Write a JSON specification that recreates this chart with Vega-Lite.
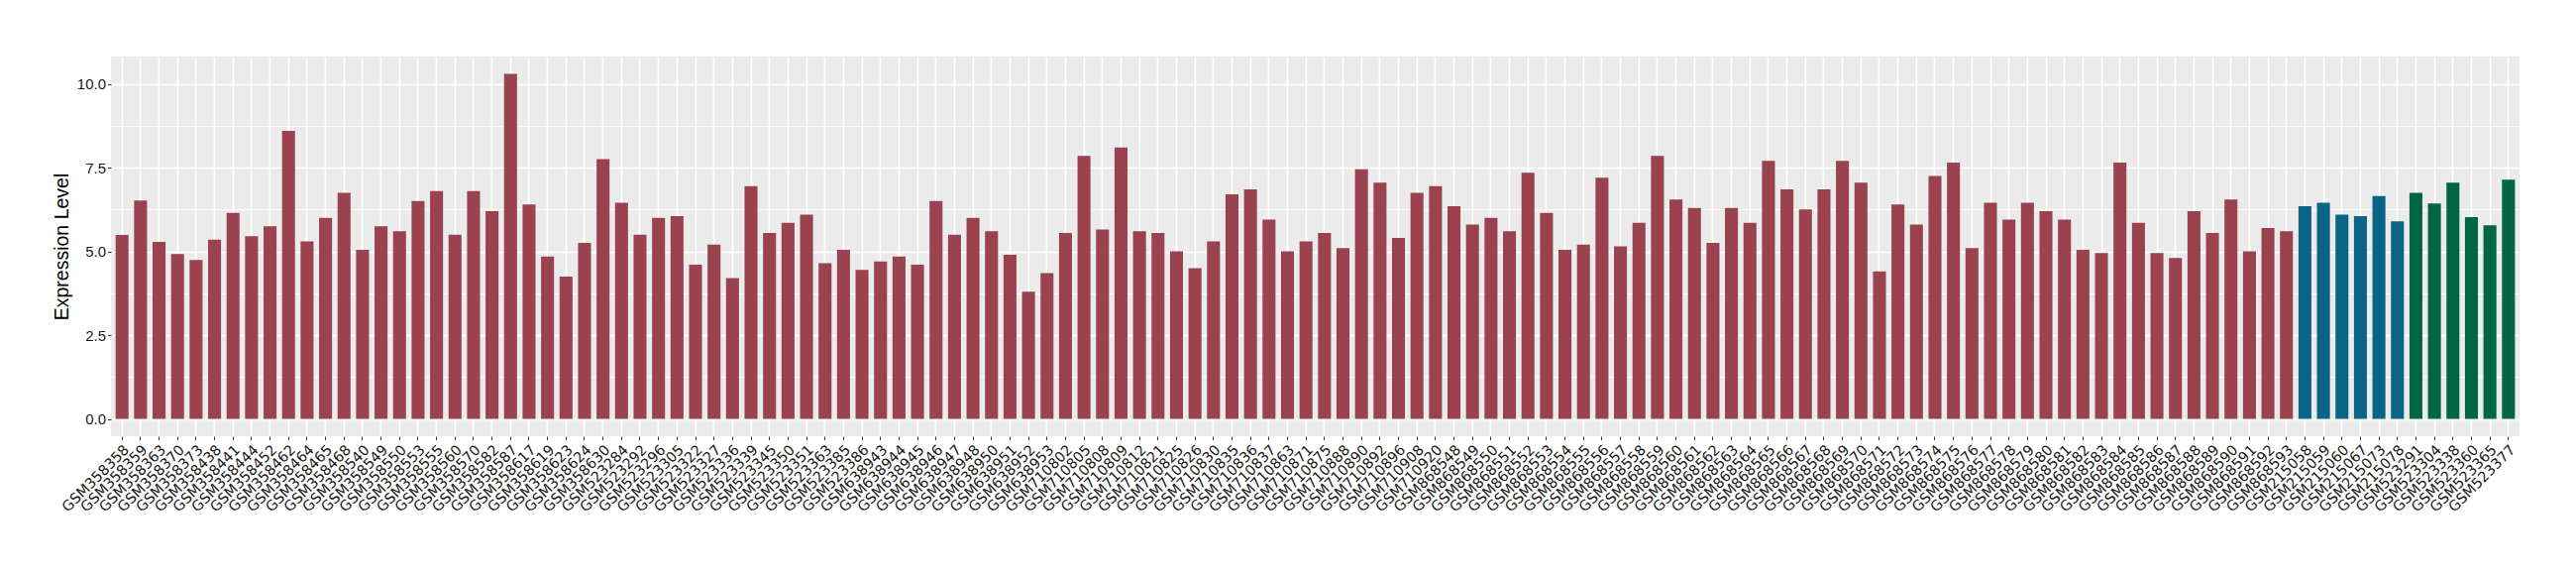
{
  "$schema": "https://vega.github.io/schema/vega-lite/v6.json",
  "autosize": "none",
  "padding": {"left": 112, "top": 57, "right": 57, "bottom": 140},
  "width": 2431,
  "height": 383,
  "background": "white",
  "config": {
    "view": {"fill": "#EBEBEB", "stroke": null},
    "font": "Liberation Sans"
  },
  "data": {"values": [
    {"s":"GSM358358","v":5.49,"g":"A"},{"s":"GSM358359","v":6.52,"g":"A"},{"s":"GSM358363","v":5.28,"g":"A"},{"s":"GSM358370","v":4.92,"g":"A"},{"s":"GSM358373","v":4.74,"g":"A"},
    {"s":"GSM358438","v":5.35,"g":"A"},{"s":"GSM358441","v":6.15,"g":"A"},{"s":"GSM358444","v":5.45,"g":"A"},{"s":"GSM358452","v":5.75,"g":"A"},{"s":"GSM358462","v":8.6,"g":"A"},
    {"s":"GSM358464","v":5.3,"g":"A"},{"s":"GSM358465","v":6.0,"g":"A"},{"s":"GSM358468","v":6.75,"g":"A"},{"s":"GSM358540","v":5.05,"g":"A"},{"s":"GSM358549","v":5.75,"g":"A"},
    {"s":"GSM358550","v":5.6,"g":"A"},{"s":"GSM358553","v":6.5,"g":"A"},{"s":"GSM358555","v":6.8,"g":"A"},{"s":"GSM358560","v":5.5,"g":"A"},{"s":"GSM358570","v":6.8,"g":"A"},
    {"s":"GSM358582","v":6.2,"g":"A"},{"s":"GSM358587","v":10.3,"g":"A"},{"s":"GSM358617","v":6.4,"g":"A"},{"s":"GSM358619","v":4.85,"g":"A"},{"s":"GSM358623","v":4.25,"g":"A"},
    {"s":"GSM358624","v":5.25,"g":"A"},{"s":"GSM358630","v":7.75,"g":"A"},{"s":"GSM523284","v":6.45,"g":"A"},{"s":"GSM523292","v":5.5,"g":"A"},{"s":"GSM523296","v":6.0,"g":"A"},
    {"s":"GSM523305","v":6.05,"g":"A"},{"s":"GSM523322","v":4.6,"g":"A"},{"s":"GSM523327","v":5.2,"g":"A"},{"s":"GSM523336","v":4.2,"g":"A"},{"s":"GSM523339","v":6.95,"g":"A"},
    {"s":"GSM523345","v":5.55,"g":"A"},{"s":"GSM523350","v":5.85,"g":"A"},{"s":"GSM523351","v":6.1,"g":"A"},{"s":"GSM523363","v":4.65,"g":"A"},{"s":"GSM523385","v":5.05,"g":"A"},
    {"s":"GSM523386","v":4.45,"g":"A"},{"s":"GSM638943","v":4.7,"g":"A"},{"s":"GSM638944","v":4.85,"g":"A"},{"s":"GSM638945","v":4.6,"g":"A"},{"s":"GSM638946","v":6.5,"g":"A"},
    {"s":"GSM638947","v":5.5,"g":"A"},{"s":"GSM638948","v":6.0,"g":"A"},{"s":"GSM638950","v":5.6,"g":"A"},{"s":"GSM638951","v":4.9,"g":"A"},{"s":"GSM638952","v":3.8,"g":"A"},
    {"s":"GSM638953","v":4.35,"g":"A"},{"s":"GSM710802","v":5.55,"g":"A"},{"s":"GSM710805","v":7.85,"g":"A"},{"s":"GSM710808","v":5.65,"g":"A"},{"s":"GSM710809","v":8.1,"g":"A"},
    {"s":"GSM710812","v":5.6,"g":"A"},{"s":"GSM710821","v":5.55,"g":"A"},{"s":"GSM710825","v":5.0,"g":"A"},{"s":"GSM710826","v":4.5,"g":"A"},{"s":"GSM710830","v":5.3,"g":"A"},
    {"s":"GSM710835","v":6.7,"g":"A"},{"s":"GSM710836","v":6.85,"g":"A"},{"s":"GSM710837","v":5.95,"g":"A"},{"s":"GSM710863","v":5.0,"g":"A"},{"s":"GSM710871","v":5.3,"g":"A"},
    {"s":"GSM710875","v":5.55,"g":"A"},{"s":"GSM710888","v":5.1,"g":"A"},{"s":"GSM710890","v":7.45,"g":"A"},{"s":"GSM710892","v":7.05,"g":"A"},{"s":"GSM710896","v":5.4,"g":"A"},
    {"s":"GSM710908","v":6.75,"g":"A"},{"s":"GSM710920","v":6.95,"g":"A"},{"s":"GSM868548","v":6.35,"g":"A"},{"s":"GSM868549","v":5.8,"g":"A"},{"s":"GSM868550","v":6.0,"g":"A"},
    {"s":"GSM868551","v":5.6,"g":"A"},{"s":"GSM868552","v":7.35,"g":"A"},{"s":"GSM868553","v":6.15,"g":"A"},{"s":"GSM868554","v":5.05,"g":"A"},{"s":"GSM868555","v":5.2,"g":"A"},
    {"s":"GSM868556","v":7.2,"g":"A"},{"s":"GSM868557","v":5.15,"g":"A"},{"s":"GSM868558","v":5.85,"g":"A"},{"s":"GSM868559","v":7.85,"g":"A"},{"s":"GSM868560","v":6.55,"g":"A"},
    {"s":"GSM868561","v":6.3,"g":"A"},{"s":"GSM868562","v":5.25,"g":"A"},{"s":"GSM868563","v":6.3,"g":"A"},{"s":"GSM868564","v":5.85,"g":"A"},{"s":"GSM868565","v":7.7,"g":"A"},
    {"s":"GSM868566","v":6.85,"g":"A"},{"s":"GSM868567","v":6.25,"g":"A"},{"s":"GSM868568","v":6.85,"g":"A"},{"s":"GSM868569","v":7.7,"g":"A"},{"s":"GSM868570","v":7.05,"g":"A"},
    {"s":"GSM868571","v":4.4,"g":"A"},{"s":"GSM868572","v":6.4,"g":"A"},{"s":"GSM868573","v":5.8,"g":"A"},{"s":"GSM868574","v":7.25,"g":"A"},{"s":"GSM868575","v":7.65,"g":"A"},
    {"s":"GSM868576","v":5.1,"g":"A"},{"s":"GSM868577","v":6.45,"g":"A"},{"s":"GSM868578","v":5.95,"g":"A"},{"s":"GSM868579","v":6.45,"g":"A"},{"s":"GSM868580","v":6.2,"g":"A"},
    {"s":"GSM868581","v":5.95,"g":"A"},{"s":"GSM868582","v":5.05,"g":"A"},{"s":"GSM868583","v":4.95,"g":"A"},{"s":"GSM868584","v":7.65,"g":"A"},{"s":"GSM868585","v":5.85,"g":"A"},
    {"s":"GSM868586","v":4.95,"g":"A"},{"s":"GSM868587","v":4.8,"g":"A"},{"s":"GSM868588","v":6.2,"g":"A"},{"s":"GSM868589","v":5.55,"g":"A"},{"s":"GSM868590","v":6.55,"g":"A"},
    {"s":"GSM868591","v":5.0,"g":"A"},{"s":"GSM868592","v":5.7,"g":"A"},{"s":"GSM868593","v":5.6,"g":"A"},
    {"s":"GSM215058","v":6.35,"g":"B"},{"s":"GSM215059","v":6.45,"g":"B"},{"s":"GSM215060","v":6.1,"g":"B"},{"s":"GSM215067","v":6.05,"g":"B"},{"s":"GSM215073","v":6.65,"g":"B"},{"s":"GSM215078","v":5.9,"g":"B"},
    {"s":"GSM523291","v":6.75,"g":"C"},{"s":"GSM523304","v":6.43,"g":"C"},{"s":"GSM523338","v":7.05,"g":"C"},{"s":"GSM523360","v":6.02,"g":"C"},{"s":"GSM523365","v":5.78,"g":"C"},{"s":"GSM523377","v":7.14,"g":"C"}
  ]},
  "mark": {"type": "bar"},
  "encoding": {
    "x": {
      "field": "s", "type": "nominal", "sort": null,
      "scale": {"paddingInner": 0.3, "paddingOuter": 0.25},
      "axis": {
        "title": null, "domain": false,
        "labelAngle": -45, "labelAlign": "right", "labelBaseline": "top",
        "labelFont": "DejaVu Sans",
        "labelFontSize": 14.5, "labelColor": "#1a1a1a", "labelPadding": 3,
        "tickColor": "#333333", "tickSize": 3.5, "tickWidth": 1,
        "grid": true, "gridColor": "#FFFFFF", "gridWidth": 1.6,
        "labelOverlap": false, "labelLimit": 0
      }
    },
    "y": {
      "field": "v", "type": "quantitative",
      "scale": {"domain": [-0.515, 10.815], "nice": false, "zero": false},
      "axis": {
        "title": "Expression Level", "titleFontSize": 19.5, "titleFontWeight": "normal", "titleColor": "#000000", "titlePadding": 5,
        "domain": false,
        "values": [0, 1.25, 2.5, 3.75, 5, 6.25, 7.5, 8.75, 10],
        "labelExpr": "datum.value % 2.5 === 0 ? format(datum.value, '.1f') : ''",
        "labelFontSize": 15, "labelColor": "#1a1a1a", "labelPadding": 2,
        "tickColor": "#333333", "tickSize": 3.5, "tickWidth": 1,
        "tickOpacity": {"condition": {"test": "datum.value % 2.5 !== 0", "value": 0}, "value": 1},
        "grid": true, "gridColor": "#FFFFFF",
        "gridWidth": {"condition": {"test": "datum.value % 2.5 !== 0", "value": 0.8}, "value": 1.6}
      }
    },
    "color": {
      "field": "g", "type": "nominal",
      "scale": {"domain": ["A", "B", "C"], "range": ["#9A4250", "#096485", "#006644"]},
      "legend": null
    }
  }
}
